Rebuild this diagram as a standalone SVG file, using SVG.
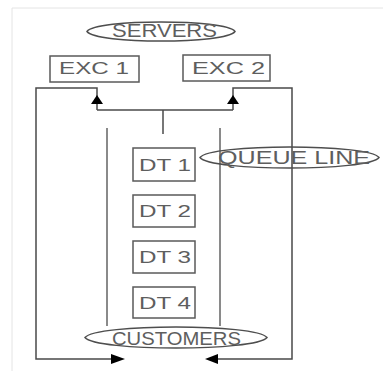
<svg xmlns="http://www.w3.org/2000/svg" width="383" height="371" viewBox="0 0 383 371">
<style>
.bg{fill:#ffffff}
.frame{stroke:#e4e4e4;stroke-width:1;fill:none}
.box{fill:#ffffff;stroke:#5a5a5a;stroke-width:1.5}
.oval{fill:none;stroke:#4e4e4e;stroke-width:1.5}
.line{stroke:#4a4a4a;stroke-width:1.5;fill:none}
.lane{stroke:#8a8a8a;stroke-width:2;fill:none}
.arrow{fill:#000000}
text{font-family:"Liberation Sans","DejaVu Sans",sans-serif;fill:#5e5e5e;font-size:16px}
.big{font-size:18px}
</style>
<rect class="bg" x="0" y="0" width="383" height="371"/>
<g id="frame">
<line class="frame" x1="12" y1="8" x2="383" y2="8"/>
<line class="frame" x1="12" y1="8" x2="12" y2="371"/>
</g>
<g id="connectors">
<polyline class="line" points="97,110 97,88 36,88 36,359 112,359"/>
<polyline class="line" points="233,110 233,88 292,88 292,359 217,359"/>
<line class="line" x1="97" y1="110" x2="233" y2="110"/>
<line class="line" x1="163" y1="110" x2="163" y2="134"/>
<line class="lane" x1="107" y1="128" x2="107" y2="326"/>
<line class="lane" x1="220" y1="128" x2="220" y2="326"/>
<polygon class="arrow" points="97,95 91,104 103,104"/>
<polygon class="arrow" points="233,95 227,104 239,104"/>
<polygon class="arrow" points="125,359 111,354 111,364"/>
<polygon class="arrow" points="205,359 218,354 218,364"/>
</g>
<g id="servers">
<path class="oval" d="M87,31.5 C96,18.8 226,18.8 235,31.5 C226,44.2 96,44.2 87,31.5 Z"/>
<text class="big" x="112" y="36.5" textLength="105" lengthAdjust="spacingAndGlyphs">SERVERS</text>
</g>
<g id="exc1">
<rect class="box" x="50" y="56" width="89" height="26"/>
<text x="59" y="74" textLength="70" lengthAdjust="spacingAndGlyphs">EXC 1</text>
</g>
<g id="exc2">
<rect class="box" x="183" y="55" width="87" height="26"/>
<text x="192" y="74" textLength="73" lengthAdjust="spacingAndGlyphs">EXC 2</text>
</g>
<g id="dt1">
<rect class="box" x="133" y="148" width="62" height="33"/>
<text x="139" y="171" textLength="52" lengthAdjust="spacingAndGlyphs">DT 1</text>
</g>
<g id="dt2">
<rect class="box" x="133" y="195" width="62" height="32"/>
<text x="139" y="217" textLength="52" lengthAdjust="spacingAndGlyphs">DT 2</text>
</g>
<g id="dt3">
<rect class="box" x="133" y="241" width="62" height="32"/>
<text x="139" y="263" textLength="52" lengthAdjust="spacingAndGlyphs">DT 3</text>
</g>
<g id="dt4">
<rect class="box" x="133" y="287" width="62" height="31"/>
<text x="139" y="309" textLength="52" lengthAdjust="spacingAndGlyphs">DT 4</text>
</g>
<g id="queue-line">
<path class="oval" d="M200,157.5 C210,143.5 369,143.5 379,157.5 C369,171.5 210,171.5 200,157.5 Z"/>
<text class="big" x="218" y="164" textLength="152" lengthAdjust="spacingAndGlyphs">QUEUE LINE</text>
</g>
<g id="customers">
<path class="oval" d="M85,337.5 C96,323.5 256,323.5 267,337.5 C256,351.5 96,351.5 85,337.5 Z"/>
<text class="big" x="112" y="344.5" textLength="129" lengthAdjust="spacingAndGlyphs">CUSTOMERS</text>
</g>
</svg>
